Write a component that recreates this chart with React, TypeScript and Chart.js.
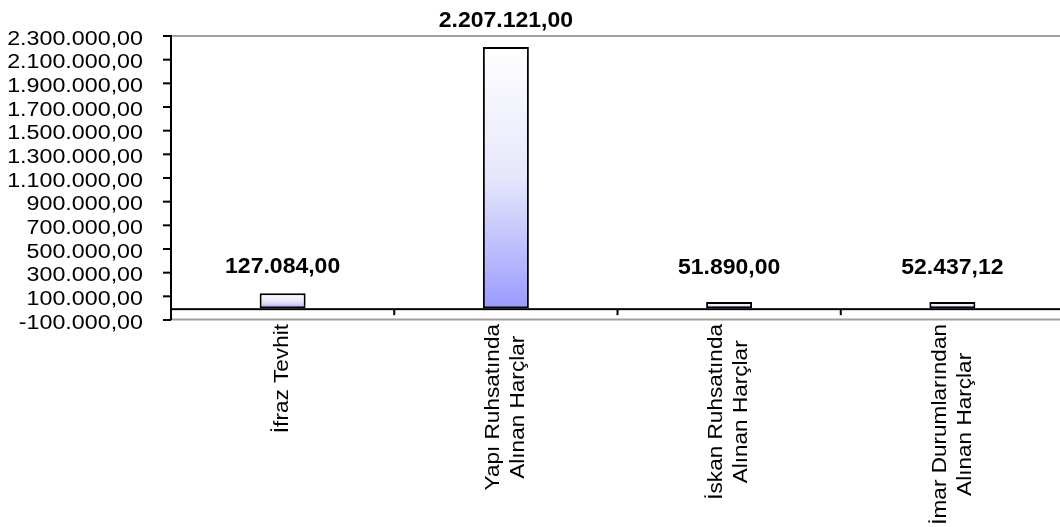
import React, { useEffect, useRef } from "react";
import { Chart, registerables } from "chart.js";

Chart.register(...registerables);

// ---- data ----
const categories: string[][] = [
  ["İfraz Tevhit"],
  ["Yapı Ruhsatında", "Alınan Harçlar"],
  ["İskan Ruhsatında", "Alınan Harçlar"],
  ["İmar Durumlarından", "Alınan Harçlar"],
];
const values: number[] = [127084, 2207121, 51890, 52437.12];
const yTicks: number[] = [
  -100000, 100000, 300000, 500000, 700000, 900000, 1100000, 1300000, 1500000,
  1700000, 1900000, 2100000, 2300000,
];
const yMin = -100000;
const yMax = 2300000;

// ---- styles ----
const FONT = '"Liberation Sans", Arial, Helvetica, sans-serif';
const LABEL_FLOOR = 120000;

function formatTR(v: number): string {
  const neg = v < 0;
  const fixed = Math.abs(v).toFixed(2);
  const [intPart, dec] = fixed.split(".");
  const grouped = intPart.replace(/\B(?=(\d{3})+(?!\d))/g, ".");
  return (neg ? "-" : "") + grouped + "," + dec;
}

function stretchedText(
  ctx: CanvasRenderingContext2D,
  text: string,
  x: number,
  y: number,
  size: number,
  weight: string,
  sx: number,
  align: CanvasTextAlign,
  baseline: CanvasTextBaseline
) {
  ctx.save();
  ctx.translate(x, y);
  ctx.scale(sx, 1);
  ctx.font = `${weight} ${size}px ${FONT}`;
  ctx.textAlign = align;
  ctx.textBaseline = baseline;
  ctx.fillStyle = "#000";
  ctx.fillText(text, 0, 0);
  ctx.restore();
}

const axesPlugin = {
  id: "excelAxes",
  beforeDatasetsDraw(chart: any) {
    const { ctx, chartArea, scales } = chart;
    const y = scales.y;
    const zeroY = y.getPixelForValue(0);
    ctx.save();
    ctx.fillStyle = "#a0a0a0";
    ctx.fillRect(chartArea.left, chartArea.top - 1, chartArea.right - chartArea.left, 2);
    ctx.fillRect(chartArea.left, chartArea.bottom - 1.5, chartArea.right - chartArea.left, 2);
    ctx.fillStyle = "#000";
    ctx.fillRect(chartArea.left, zeroY, chartArea.right - chartArea.left, 2);
    ctx.restore();
  },
  afterDatasetsDraw(chart: any) {
    const { ctx, chartArea, scales } = chart;
    const y = scales.y;
    const x = scales.x;
    const zeroY = y.getPixelForValue(0);
    ctx.save();
    ctx.fillStyle = "#000";
    // y axis line
    ctx.fillRect(chartArea.left - 1, chartArea.top - 1, 2, chartArea.bottom - chartArea.top + 1);
    // y ticks + labels
    yTicks.forEach((t) => {
      const py = y.getPixelForValue(t);
      ctx.fillStyle = "#000";
      ctx.fillRect(chartArea.left - 8, py - 1, 8, 2);
      stretchedText(ctx, formatTR(t), chartArea.left - 28, py + 3, 20.5, "normal", 1.135, "right", "middle");
    });
    // x category boundary ticks
    for (let i = 0; i < categories.length - 1; i++) {
      const bx = (x.getPixelForValue(i) + x.getPixelForValue(i + 1)) / 2;
      ctx.fillStyle = "#000";
      ctx.fillRect(bx - 1, zeroY + 1, 2, 6);
    }
    // data labels
    values.forEach((v, i) => {
      const px = x.getPixelForValue(i);
      const py = y.getPixelForValue(Math.max(v, LABEL_FLOOR)) - 20;
      stretchedText(ctx, formatTR(v), px, py, 21.5, "bold", 1.07, "center", "alphabetic");
    });
    // category labels (rotated)
    const catSize = 21;
    const catSx = 1.075;
    const lineH = 25;
    const endY = chartArea.bottom + 4;
    categories.forEach((lines, i) => {
      const px = x.getPixelForValue(i);
      ctx.save();
      ctx.font = `normal ${catSize}px ${FONT}`;
      const maxW = Math.max(...lines.map((l) => ctx.measureText(l).width)) * catSx;
      ctx.translate(px, endY);
      ctx.rotate(-Math.PI / 2);
      lines.forEach((l, j) => {
        const off = (j - (lines.length - 1) / 2) * lineH;
        stretchedText(ctx, l, -maxW / 2, off, catSize, "normal", catSx, "center", "middle");
      });
      ctx.restore();
    });
    ctx.restore();
  },
};

export default function App() {
  const ref = useRef<HTMLCanvasElement>(null);
  useEffect(() => {
    if (!ref.current) return;
    const chart = new Chart(ref.current, {
      type: "bar",
      data: {
        labels: categories,
        datasets: [
          {
            data: values,
            backgroundColor: (c: any) => {
              const ch = c.chart;
              const ys = ch.scales && ch.scales.y;
              if (!ys || c.dataIndex === undefined || !ch.chartArea) return "#ccccff";
              const v = values[c.dataIndex];
              const top = ys.getPixelForValue(v);
              const base = ys.getPixelForValue(0);
              const g = ch.ctx.createLinearGradient(0, top, 0, base + 2);
              g.addColorStop(0, "#ffffff");
              g.addColorStop(0.5, "#e6e6fc");
              g.addColorStop(1, "#9999ff");
              return g;
            },
            borderColor: "#000000",
            borderWidth: 2,
            borderSkipped: false,
            barPercentage: 0.206,
            categoryPercentage: 1,
          },
        ],
      },
      options: {
        responsive: false,
        animation: false,
        devicePixelRatio: 1,
        layout: { padding: { left: 171, right: 0, top: 36, bottom: 207 } },
        plugins: {
          legend: { display: false },
          title: { display: false },
          tooltip: { enabled: false },
        },
        scales: {
          x: { display: false, offset: true },
          y: { display: false, min: yMin, max: yMax },
        },
      },
      plugins: [axesPlugin],
    } as any);
    return () => chart.destroy();
  }, []);
  return (
    <div
      style={{
        position: "fixed",
        left: 0,
        top: 0,
        width: 1060,
        height: 527,
        overflow: "hidden",
        background: "#ffffff",
      }}
    >
      <canvas ref={ref} width={1064} height={527} style={{ display: "block" }} />
    </div>
  );
}
